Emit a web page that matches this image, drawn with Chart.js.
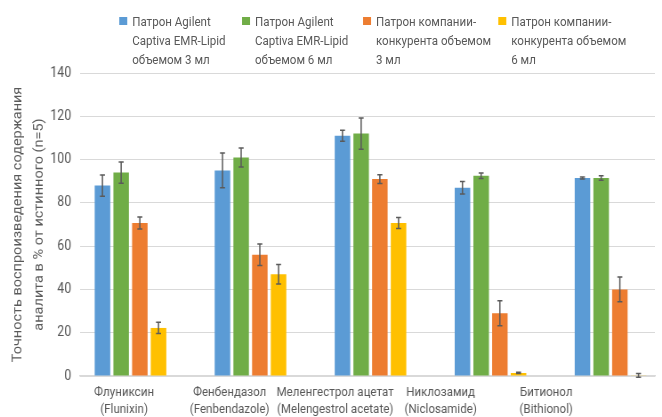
<!DOCTYPE html>
<html>
<head>
<meta charset="utf-8">
<script src="https://cdn.jsdelivr.net/npm/chart.js@4/dist/chart.umd.min.js"></script>
<style>
  html, body { margin: 0; padding: 0; background: #ffffff; }
  #outer { position: relative; width: 662px; height: 417px; overflow: hidden; }
  #inner { position: absolute; left: 0; top: 0; width: 744px; height: 417px; transform: scaleX(0.8898); transform-origin: 0 0; }
  #c { width: 744px; height: 417px; }
  #legend { position: absolute; top: 12px; left: 134px; display: flex; font-family: Roboto, sans-serif; font-size: 13px; color: #595959; line-height: 19px; white-space: nowrap; }
  .li { display: flex; align-items: flex-start; }
  .sw { width: 9px; height: 8px; margin-top: 5px; margin-right: 5.5px; flex: none; }
</style>
</head>
<body>
<div id="outer">
 <div id="inner">
  <canvas id="c" width="744" height="417"></canvas>
  <div id="legend"></div>
 </div>
</div>
<script>
const categories = [
  ["Флуниксин", "(Flunixin)"],
  ["Фенбендазол", "(Fenbendazole)"],
  ["Меленгестрол ацетат", "(Melengestrol acetate)"],
  ["Никлозамид", "(Niclosamide)"],
  ["Битионол", "(Bithionol)"]
];
const seriesNames = [
  ["Патрон Agilent", "Captiva EMR-Lipid", "объемом 3 мл"],
  ["Патрон Agilent", "Captiva EMR-Lipid", "объемом 6 мл"],
  ["Патрон компании-", "конкурента объемом", "3 мл"],
  ["Патрон компании-", "конкурента объемом", "6 мл"]
];
const emr3 = [88, 95, 111, 87, 91.5];
const emr3Err = [4.9, 8, 2.5, 2.9, 0.5];
const emr6 = [94, 101, 112, 92.5, 91.5];
const emr6Err = [4.9, 4.4, 7.2, 1.3, 1];
const comp3 = [70.7, 56, 91, 29, 40];
const comp3Err = [2.8, 5, 2, 5.8, 5.7];
const comp6 = [22.2, 47, 70.7, 1.4, 0.3];
const comp6Err = [2.6, 4.5, 2.5, 0.3, 0.9];
const yAxisTitle = ["Точность воспроизведения содержания", "аналита в % от истинного (n=5)"];
const yMin = 0, yMax = 140, yStep = 20;

const colors = ["#5b9bd5", "#70ad47", "#ed7d31", "#ffc000"];
const legendWidths = [138, 136, 152, 170];
const textColor = "#595959";
// axis ranges (in category-index units) used to place groups and labels
const barRange = [-0.42, 4.37];
const labelRange = [-0.417, 5.03];

const errorBars = {
  id: 'errorBars',
  afterDatasetsDraw(chart) {
    const ctx = chart.ctx;
    const ys = chart.scales.y;
    chart.data.datasets.forEach((ds, di) => {
      const meta = chart.getDatasetMeta(di);
      meta.data.forEach((bar, i) => {
        const v = ds.data[i], e = ds.errors[i];
        const x = bar.x;
        const yt = ys.getPixelForValue(v + e);
        const yb = ys.getPixelForValue(v - e);
        ctx.save();
        ctx.strokeStyle = '#5a5a5a';
        ctx.lineWidth = 1.5;
        ctx.beginPath();
        ctx.moveTo(x, yt); ctx.lineTo(x, yb);
        ctx.moveTo(x - 2.8, yt); ctx.lineTo(x + 2.8, yt);
        ctx.moveTo(x - 2.8, yb); ctx.lineTo(x + 2.8, yb);
        ctx.stroke();
        ctx.restore();
      });
    });
  }
};

const htmlLegend = {
  id: 'htmlLegend',
  afterUpdate(chart) {
    const box = document.getElementById('legend');
    box.innerHTML = '';
    chart.data.datasets.forEach((ds, i) => {
      const item = document.createElement('div');
      item.className = 'li';
      item.style.width = legendWidths[i] + 'px';
      const sw = document.createElement('span');
      sw.className = 'sw';
      sw.style.background = ds.backgroundColor;
      const tx = document.createElement('div');
      ds.legendLines.forEach(line => {
        const d = document.createElement('div');
        d.textContent = line;
        tx.appendChild(d);
      });
      item.appendChild(sw);
      item.appendChild(tx);
      box.appendChild(item);
    });
  }
};

const allData = [emr3, emr6, comp3, comp6];
const allErr = [emr3Err, emr6Err, comp3Err, comp6Err];

function fixRange(range) {
  return function (s) {
    s.min = range[0];
    s.max = range[1];
    s.ticks = categories.map((_, i) => ({ value: i }));
  };
}

new Chart(document.getElementById('c'), {
  type: 'bar',
  data: {
    labels: categories.map((_, i) => i),
    datasets: allData.map((d, i) => ({
      label: seriesNames[i].join(' '),
      legendLines: seriesNames[i],
      data: d,
      errors: allErr[i],
      backgroundColor: colors[i],
      borderWidth: 0,
      barPercentage: 0.83,
      categoryPercentage: 0.623
    }))
  },
  options: {
    responsive: false,
    animation: false,
    devicePixelRatio: 1,
    layout: { padding: { top: 73, right: 8, left: 0, bottom: 0 } },
    plugins: {
      legend: { display: false },
      tooltip: { enabled: false }
    },
    scales: {
      x: {
        type: 'linear',
        display: false,
        offset: false,
        min: barRange[0],
        max: barRange[1],
        afterBuildTicks: fixRange(barRange)
      },
      xl: {
        type: 'linear',
        position: 'bottom',
        offset: false,
        min: labelRange[0],
        max: labelRange[1],
        grid: { display: false },
        border: { display: true, color: '#d9d9d9', width: 1.5 },
        ticks: {
          color: textColor,
          font: { family: 'Roboto', size: 13, lineHeight: 1.33 },
          padding: 0,
          maxRotation: 0,
          autoSkip: false,
          callback: (v, i) => categories[i]
        },
        afterBuildTicks: fixRange(labelRange),
        afterFit(s) { s.height = 41; }
      },
      y: {
        min: yMin, max: yMax,
        ticks: {
          stepSize: yStep,
          color: textColor,
          font: { family: 'Roboto', size: 14 },
          padding: 10
        },
        grid: { color: '#d9d9d9', lineWidth: 1, drawTicks: false },
        border: { display: false },
        title: {
          display: true,
          text: yAxisTitle,
          color: textColor,
          font: { family: 'Roboto', size: 14.5, lineHeight: 1.63 },
          padding: { top: 9, bottom: 0 }
        },
        afterFit(s) { s.width = 90; }
      }
    }
  },
  plugins: [errorBars, htmlLegend]
});
</script>
</body>
</html>
